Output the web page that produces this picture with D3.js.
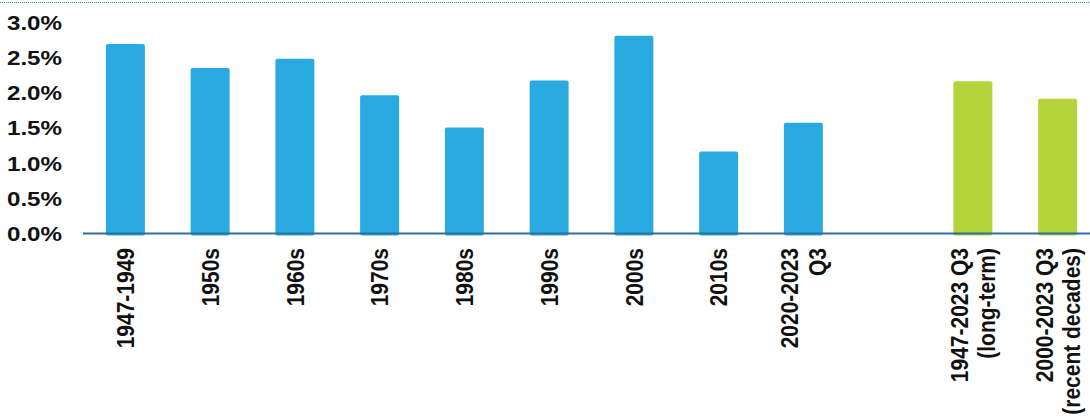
<!DOCTYPE html>
<html>
<head>
<meta charset="utf-8">
<script src="https://cdn.jsdelivr.net/npm/d3@7"></script>
<style>
  body { margin: 0; background: #fff; }
  svg { display: block; font-family: "Liberation Sans", Arial, sans-serif; }
</style>
</head>
<body>
<svg id="chart"></svg>
<script>
// categories (empty slot between the decade bars and the averages)
let categories = ["1947-1949", "1950s", "1960s", "1970s", "1980s", "1990s", "2000s", "2010s",
                  "2020-2023 Q3", "gap", "1947-2023 Q3 (long-term)", "2000-2023 Q3 (recent decades)"];
let values = [2.70, 2.36, 2.49, 1.97, 1.51, 2.18, 2.82, 1.17, 1.58, null, 2.17, 1.92];
let groups = ["decade", "decade", "decade", "decade", "decade", "decade", "decade", "decade",
              "decade", "none", "average", "average"];
let labelLines = [["1947-1949"], ["1950s"], ["1960s"], ["1970s"], ["1980s"], ["1990s"], ["2000s"],
                  ["2010s"], ["2020-2023", "Q3"], [], ["1947-2023 Q3", "(long-term)"],
                  ["2000-2023 Q3", "(recent decades)"]];
let yTicks = [0, 0.5, 1, 1.5, 2, 2.5, 3];

let width = 1090, height = 418;
let colors = {decade: "#29abe2", average: "#b5d33a"};
let stretch = 1.15; // text in the original is a bit wider than normal

let svg = d3.select("#chart")
    .attr("width", width)
    .attr("height", height);

let x = d3.scaleBand()
    .domain(categories)
    .range([83, 1100])
    .paddingInner(0.54)
    .paddingOuter(0.27);

let y = d3.scaleLinear()
    .domain([0, 3])
    .range([233.5, 23]);

// dotted rule at the top
svg.append("line")
    .attr("x1", 0).attr("x2", width)
    .attr("y1", 2.5).attr("y2", 2.5)
    .attr("stroke", "#2b7bbd")
    .attr("stroke-width", 1)
    .attr("stroke-dasharray", "1,1");

// y axis labels only (no line, no ticks)
let yAxis = d3.axisLeft(y)
    .tickValues(yTicks)
    .tickSize(0)
    .tickPadding(0)
    .tickFormat(d => d3.format(".1f")(d) + "%");

svg.append("g")
    .attr("transform", "translate(62,0)")
    .call(yAxis)
    .call(g => g.select(".domain").remove())
    .selectAll("text")
    .attr("transform", "scale(" + stretch + ",1)")
    .attr("font-size", 21)
    .attr("font-weight", "bold")
    .attr("fill", "#111")
    .attr("font-family", "Liberation Sans, Arial, sans-serif");

// bars
let data = categories.map((c, i) => ({cat: c, v: values[i], g: groups[i], lines: labelLines[i]}));

svg.append("g")
    .selectAll("rect")
    .data(data.filter(d => d.v !== null))
    .enter()
    .append("rect")
    .attr("x", d => x(d.cat))
    .attr("width", x.bandwidth())
    .attr("y", d => y(d.v))
    .attr("height", d => y(0) - y(d.v) + 2)
    .attr("rx", 2)
    .attr("fill", d => colors[d.g]);

// baseline
svg.append("line")
    .attr("x1", 83).attr("x2", width)
    .attr("y1", y(0)).attr("y2", y(0))
    .attr("stroke", "#2f6f9f")
    .attr("stroke-width", 2);

// rotated category labels
let lineGap = 24;
let labels = svg.append("g")
    .selectAll("g")
    .data(data.filter(d => d.lines.length))
    .enter()
    .append("g")
    .attr("transform", d => "translate(" + (x(d.cat) + x.bandwidth() / 2) + ",248) scale(" + stretch + ",1) rotate(-90)");

labels.each(function (d) {
    let n = d.lines.length;
    d3.select(this).selectAll("text")
        .data(d.lines)
        .enter()
        .append("text")
        .attr("x", 0)
        .attr("y", (t, i) => (i - (n - 1) / 2) * lineGap)
        .attr("dy", "0.36em")
        .attr("text-anchor", "end")
        .attr("font-size", 21)
        .attr("font-weight", "bold")
        .attr("fill", "#111")
        .text(t => t);
});
</script>
</body>
</html>
